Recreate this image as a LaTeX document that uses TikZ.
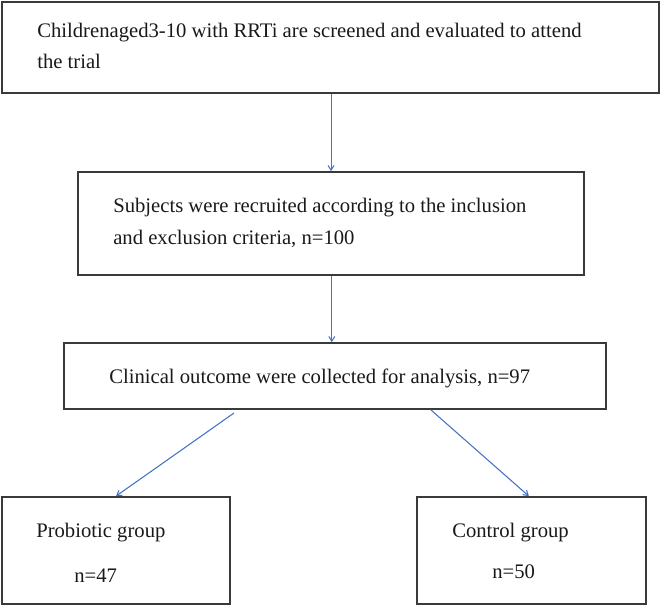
\documentclass[tikz,border=0pt]{standalone}
\usepackage{fontspec}
\setmainfont{Liberation Serif}
\usetikzlibrary{arrows.meta}
\definecolor{flowblue}{HTML}{4472C4}
\definecolor{boxgray}{HTML}{3A3A3A}
\begin{document}
\begin{tikzpicture}[x=0.75pt,y=-0.75pt,
  box/.style={draw=boxgray,line width=1.3pt,rectangle,inner sep=0pt},
  txt/.style={anchor=base west,inner sep=0pt,font=\fontsize{15.5pt}{18pt}\selectfont,text=black!90},
  flow/.style={draw=flowblue,line width=0.8pt,-{Straight Barb[length=3.5pt,width=4.5pt]}}]
\useasboundingbox (0,0) rectangle (661,606);
\node[box,minimum width=657*0.75pt,minimum height=91*0.75pt] (b1) at (330.5,47.5) {};
\node[box,minimum width=506*0.75pt,minimum height=103*0.75pt] (b2) at (331,223.5) {};
\node[box,minimum width=542*0.75pt,minimum height=66*0.75pt] (b3) at (335,376) {};
\node[box,minimum width=228*0.75pt,minimum height=107*0.75pt] (b4) at (116,550.5) {};
\node[box,minimum width=229*0.75pt,minimum height=107*0.75pt] (b5) at (531.5,550.5) {};
\node[txt] (t1a) at (37,38) {Childrenaged3-10 with RRTi are screened and evaluated to attend};
\node[txt] (t1b) at (37,69) {the trial};
\node[txt] (t2a) at (113,213) {Subjects were recruited according to the inclusion};
\node[txt] (t2b) at (113,245) {and exclusion criteria, n=100};
\node[txt] (t3) at (109,383) {Clinical outcome were collected for analysis, n=97};
\node[txt] (t4a) at (36,537) {Probiotic group};
\node[txt] (t4b) at (74,582) {n=47};
\node[txt] (t5a) at (452,537) {Control group};
\node[txt] (t5b) at (492,578) {n=50};
\coordinate (l1) at (234,413);
\coordinate (r1) at (431,410);
\draw[flow] ([xshift=0.4pt]b1.south) -- ([xshift=0.4pt]b1.south |- b2.north);
\draw[flow] ([xshift=0.6pt]b2.south) -- ([xshift=0.6pt]b2.south |- b3.north);
\draw[flow] (l1) -- (b4.north);
\draw[flow] (r1) -- ([xshift=-2pt]b5.north);
\end{tikzpicture}
\end{document}
